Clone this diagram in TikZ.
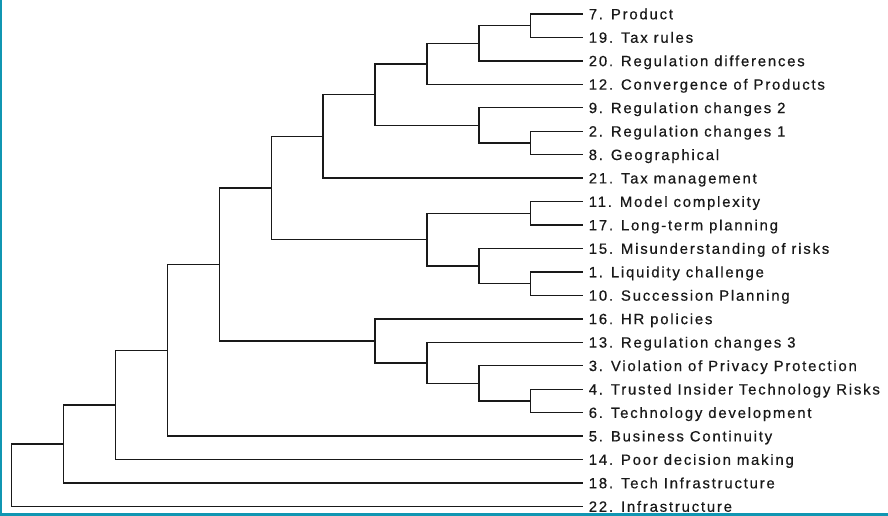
\documentclass[tikz,border=0pt]{standalone}
\usepackage{fontspec}
\setmainfont{Liberation Sans}[LetterSpace=12,FakeBold=0.6]
\definecolor{framecol}{RGB}{16,150,178}
\definecolor{inkcol}{RGB}{25,25,25}
\begin{document}
\begin{tikzpicture}[x=1pt,y=-1pt,
  leaf/.style={anchor=west,inner xsep=6pt,inner ysep=0pt,text height=10.6pt,text depth=0pt,
    font=\fontsize{14.9}{17}\selectfont,text=inkcol},
  link/.style={draw=inkcol,line width=1.4pt}]
\useasboundingbox (0,0) rectangle (888,516);
\fill[framecol] (0,0) rectangle (1.8,516);
\fill[framecol] (0,512.5) rectangle (888,516);
\def\LX#1{11.7+51.9*#1}
\def\LY#1{14+23.45*#1}
% leaves
\foreach \i/\t in {0/{7. Product},1/{19. Tax rules},2/{20. Regulation differences},
  3/{12. Convergence of Products},4/{9. Regulation changes 2},5/{2. Regulation changes 1},
  6/{8. Geographical},7/{21. Tax management},8/{11. Model complexity},
  9/{17. Long-term planning},10/{15. Misunderstanding of risks},11/{1. Liquidity challenge},
  12/{10. Succession Planning},13/{16. HR policies},14/{13. Regulation changes 3},
  15/{3. Violation of Privacy Protection},16/{4. Trusted Insider Technology Risks},
  17/{6. Technology development},18/{5. Business Continuity},19/{14. Poor decision making},
  20/{18. Tech Infrastructure},21/{22. Infrastructure}}
  \node[leaf] (l\i) at ({\LX{11}},{\LY{\i}}) {\t};
% internal joins
\coordinate (A) at ({\LX{10}},{\LY{0.5}});
\coordinate (B) at ({\LX{9}},{\LY{1.25}});
\coordinate (C) at ({\LX{8}},{\LY{2.125}});
\coordinate (D) at ({\LX{10}},{\LY{5.5}});
\coordinate (E) at ({\LX{9}},{\LY{4.75}});
\coordinate (F) at ({\LX{7}},{\LY{3.4375}});
\coordinate (G) at ({\LX{6}},{\LY{5.21875}});
\coordinate (H) at ({\LX{10}},{\LY{8.5}});
\coordinate (I) at ({\LX{10}},{\LY{11.5}});
\coordinate (J) at ({\LX{9}},{\LY{10.75}});
\coordinate (K) at ({\LX{8}},{\LY{9.625}});
\coordinate (L) at ({\LX{5}},{\LY{7.421875}});
\coordinate (M) at ({\LX{10}},{\LY{16.5}});
\coordinate (N) at ({\LX{9}},{\LY{15.75}});
\coordinate (O) at ({\LX{8}},{\LY{14.875}});
\coordinate (P) at ({\LX{7}},{\LY{13.9375}});
\coordinate (Q) at ({\LX{4}},{\LY{10.6796875}});
\coordinate (R) at ({\LX{3}},{\LY{14.33984}});
\coordinate (S) at ({\LX{2}},{\LY{16.66992}});
\coordinate (T) at ({\LX{1}},{\LY{18.33496}});
\coordinate (U) at ({\LX{0}},{\LY{19.66748}});
% connectors
\draw[link] (l0.west) -| (A) |- (l1.west);
\draw[link] (A) -| (B) |- (l2.west);
\draw[link] (B) -| (C) |- (l3.west);
\draw[link] (l5.west) -| (D) |- (l6.west);
\draw[link] (l4.west) -| (E) |- (D);
\draw[link] (C) -| (F) |- (E);
\draw[link] (F) -| (G) |- (l7.west);
\draw[link] (l8.west) -| (H) |- (l9.west);
\draw[link] (l11.west) -| (I) |- (l12.west);
\draw[link] (l10.west) -| (J) |- (I);
\draw[link] (H) -| (K) |- (J);
\draw[link] (G) -| (L) |- (K);
\draw[link] (l16.west) -| (M) |- (l17.west);
\draw[link] (l15.west) -| (N) |- (M);
\draw[link] (l14.west) -| (O) |- (N);
\draw[link] (l13.west) -| (P) |- (O);
\draw[link] (L) -| (Q) |- (P);
\draw[link] (Q) -| (R) |- (l18.west);
\draw[link] (R) -| (S) |- (l19.west);
\draw[link] (S) -| (T) |- (l20.west);
\draw[link] (T) -| (U) |- (l21.west);
\end{tikzpicture}
\end{document}
